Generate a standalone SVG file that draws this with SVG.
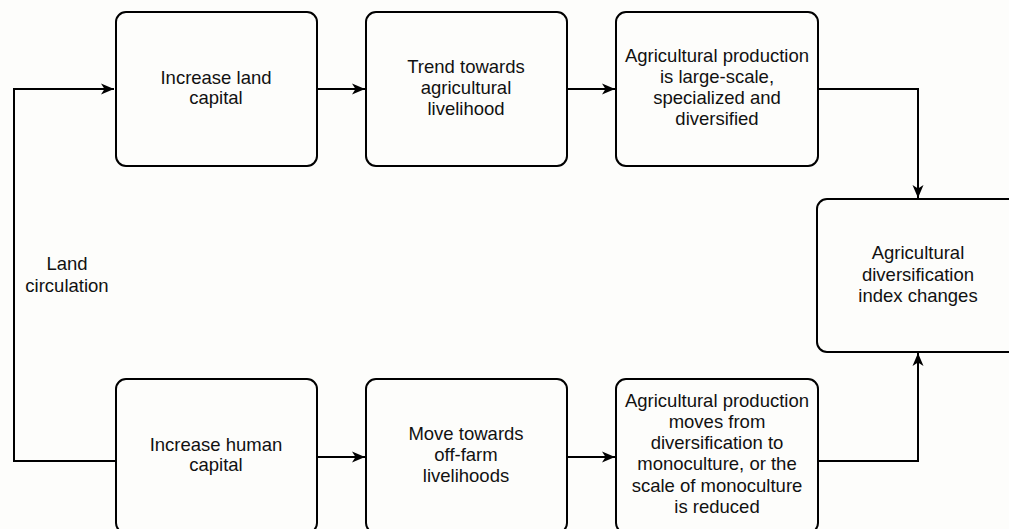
<svg xmlns="http://www.w3.org/2000/svg" width="1009" height="529" viewBox="0 0 1009 529">
<style>
.box{fill:#fdfdfb;stroke:#000;stroke-width:2}
.t{font-family:"Liberation Sans",Arial,sans-serif;font-size:18.5px;fill:#111;text-anchor:middle}
.c{fill:none;stroke:#000;stroke-width:2}
</style>
<defs>
<marker id="ah" markerUnits="userSpaceOnUse" markerWidth="14" markerHeight="12" viewBox="0 0 14 12" refX="13" refY="6" orient="auto">
<path d="M0,0.5 L13,6 L0,11.5 L3.5,6 Z" fill="#000"/>
</marker>
</defs>
<rect width="1009" height="529" fill="#fdfdfb"/>
<g id="connectors">
<path class="c" d="M317,89 L365,89" marker-end="url(#ah)"/>
<path class="c" d="M567,89 L615,89" marker-end="url(#ah)"/>
<path class="c" d="M818,89 L918,89 L918,198" marker-end="url(#ah)"/>
<path class="c" d="M115,461 L14,461 L14,89 L114,89" marker-end="url(#ah)"/>
<path class="c" d="M317,457 L365,457" marker-end="url(#ah)"/>
<path class="c" d="M567,457 L615,457" marker-end="url(#ah)"/>
<path class="c" d="M818,461 L918,461 L918,353" marker-end="url(#ah)"/>
</g>
<g id="label-land-circulation">
<text class="t" x="67" y="270">Land</text>
<text class="t" x="67" y="292">circulation</text>
</g>
<g id="n1">
<rect class="box" x="116" y="12" width="201" height="154" rx="10"/>
<text class="t" x="216" y="84">Increase land</text>
<text class="t" x="216" y="104">capital</text>
</g>
<g id="n2">
<rect class="box" x="366" y="12" width="201" height="154" rx="10"/>
<text class="t" x="466" y="73">Trend towards</text>
<text class="t" x="466" y="94">agricultural</text>
<text class="t" x="466" y="115">livelihood</text>
</g>
<g id="n3">
<rect class="box" x="616" y="12" width="202" height="154" rx="10"/>
<text class="t" x="717" y="62">Agricultural production</text>
<text class="t" x="717" y="83">is large-scale,</text>
<text class="t" x="717" y="104">specialized and</text>
<text class="t" x="717" y="125">diversified</text>
</g>
<g id="n4">
<rect class="box" x="817" y="199" width="202" height="153" rx="10"/>
<text class="t" x="918" y="259">Agricultural</text>
<text class="t" x="918" y="281">diversification</text>
<text class="t" x="918" y="302">index changes</text>
</g>
<g id="n5">
<rect class="box" x="116" y="379" width="201" height="154" rx="10"/>
<text class="t" x="216" y="451">Increase human</text>
<text class="t" x="216" y="471">capital</text>
</g>
<g id="n6">
<rect class="box" x="366" y="379" width="201" height="154" rx="10"/>
<text class="t" x="466" y="440">Move towards</text>
<text class="t" x="466" y="461">off-farm</text>
<text class="t" x="466" y="482">livelihoods</text>
</g>
<g id="n7">
<rect class="box" x="616" y="379" width="202" height="154" rx="10"/>
<text class="t" x="717" y="407">Agricultural production</text>
<text class="t" x="717" y="428">moves from</text>
<text class="t" x="717" y="449">diversification to</text>
<text class="t" x="717" y="470">monoculture, or the</text>
<text class="t" x="717" y="492">scale of monoculture</text>
<text class="t" x="717" y="513">is reduced</text>
</g>
</svg>
